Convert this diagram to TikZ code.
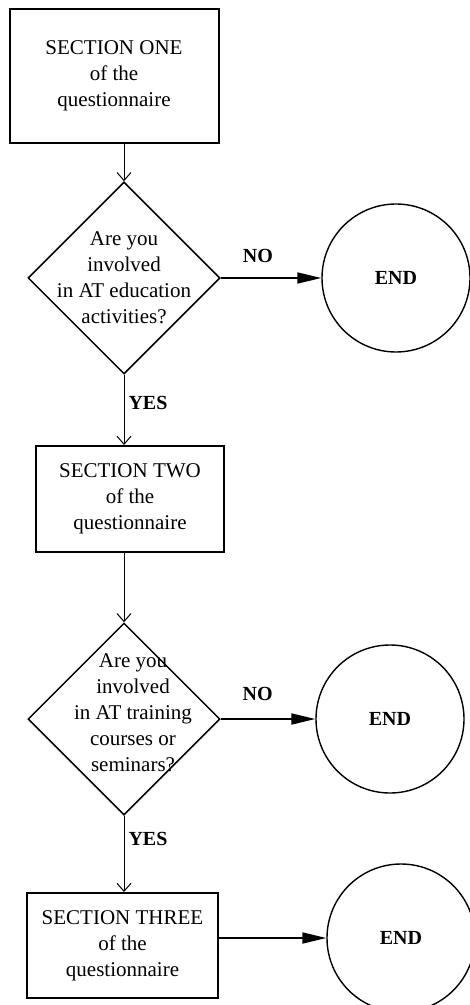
\documentclass[tikz,border=0pt]{standalone}
\usepackage{fontspec}
\setmainfont{Liberation Serif}
\usetikzlibrary{shapes.geometric,arrows.meta}

\tikzstyle{section} = [draw, line width=1pt, align=center, inner sep=0pt]
\tikzstyle{decision} = [draw, diamond, line width=0.75pt, minimum size=96pt, inner sep=0pt]
\tikzstyle{stop} = [draw, circle, line width=0.7pt, minimum size=74pt, font=\bfseries]
\tikzstyle{flow} = [draw, line width=0.5pt, -{Straight Barb[length=4pt,width=7pt]}]
\tikzstyle{exit flow} = [draw, line width=0.9pt, -{Triangle[length=12pt,width=5.5pt]}]
\tikzstyle{answer} = [font=\bfseries, inner sep=0pt]

\begin{document}
\begin{tikzpicture}[x=0.5pt, y=-0.5pt, font=\fontsize{10.5}{13}\selectfont]
    \useasboundingbox (0,0) rectangle (470,1005);
    % First the sections of the questionnaire
    \foreach \pos/\name/\w/\h/\num in {{(114,76)/S1/104.5/67/ONE},{(130,499)/S2/94/53/TWO},
        {(122.5,945.5)/S3/95.5/52.5/THREE}}
    \node[section, minimum width=\w pt, minimum height=\h pt] (\name) at \pos {SECTION \num\\of the\\questionnaire};
    % Then the questions
    \node[decision, label={[align=center]center:{Are you\\involved\\in AT education\\activities?}}] (Q1) at (124,278) {};
    \node[decision, label={[align=center,xshift=4.5pt,yshift=3pt]center:{Are you\\involved\\in AT training\\courses or\\seminars?}}] (Q2) at (124,719) {};
    % End points
    \foreach \pos/\name in {{(396,278)/E1},{(390,719)/E2},{(401,938)/E3}}
    \node[stop] (\name) at \pos {END};
    % Connectors
    \path[flow] (S1.south -| Q1) -- (Q1.north);
    \path[flow] (Q1.south) -- node[answer, right=2pt, pos=0.4] {YES} (Q1.south |- S2.north);
    \path[flow] (S2.south -| Q1) -- (Q2.north);
    \path[flow] (Q2.south) -- node[answer, right=2pt, pos=0.31] {YES} (Q2.south |- S3.north);
    \path[exit flow] (Q1.east) -- node[answer, above=7pt, pos=0.37] {NO} (E1);
    \path[exit flow] (Q2.east) -- node[answer, above=8.5pt, pos=0.39] {NO} (E2);
    \path[exit flow] (S3.east |- E3) -- (E3);
\end{tikzpicture}
\end{document}
